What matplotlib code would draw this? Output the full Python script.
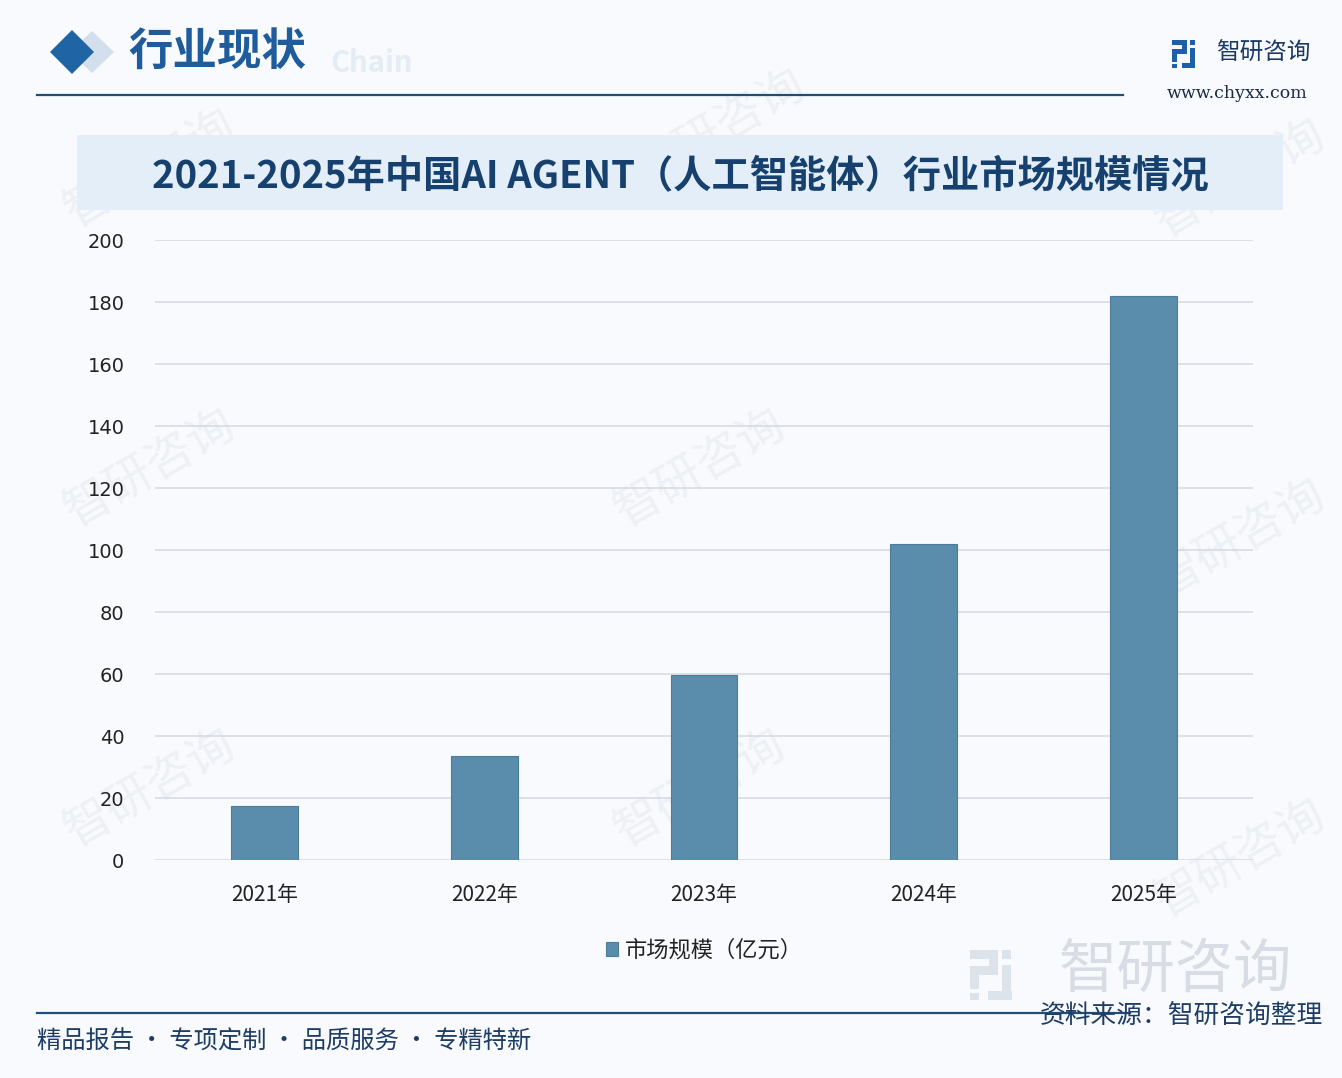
import matplotlib
matplotlib.use("Agg")
import matplotlib.pyplot as plt
from matplotlib.patches import Rectangle, Polygon

plt.rcParams['font.family'] = ['Noto Sans CJK SC', 'DejaVu Sans']

categories = ["2021年", "2022年", "2023年", "2024年", "2025年"]
values = [17.3, 33.5, 59.6, 102.0, 182.0]
yticks = [0, 20, 40, 60, 80, 100, 120, 140, 160, 180, 200]
series_name = "市场规模（亿元）"
title = "2021-2025年中国AI AGENT（人工智能体）行业市场规模情况"

W, H = 1342, 1078
fig = plt.figure(figsize=(W / 100, H / 100), dpi=100)
fig.patch.set_facecolor("#f8fafd")

def fx(x):
    return x / W

def fy(y):
    return 1 - y / H

def rect(x0, y0, w, h, color, z=2):
    fig.patches.append(Rectangle((fx(x0), fy(y0 + h)), w / W, h / H, transform=fig.transFigure,
                                 facecolor=color, edgecolor="none", zorder=z))

def logo(x0, y0, s, color):
    # simple block logo approximation
    rect(x0, y0, s * 0.55, s * 0.18, color)
    rect(x0 + s * 0.37, y0, s * 0.18, s * 0.5, color)
    rect(x0, y0 + s * 0.32, s * 0.55, s * 0.18, color)
    rect(x0, y0 + s * 0.32, s * 0.18, s * 0.45, color)
    rect(x0, y0 + s * 0.85, s * 0.18, s * 0.15, color)
    rect(x0 + s * 0.65, y0, s * 0.18, s * 0.18, color)
    rect(x0 + s * 0.65, y0 + s * 0.3, s * 0.18, s * 0.7, color)
    rect(x0 + s * 0.35, y0 + s * 0.82, s * 0.48, s * 0.18, color)

# Watermarks (faint, behind the chart)
for (x, y) in [(150, 170), (150, 470), (150, 790), (700, 470), (700, 790), (720, 130), (1240, 540), (1240, 860), (1240, 180)]:
    fig.text(fx(x), fy(y), "智研咨询", fontsize=34, color="#edf0f4", rotation=30,
             ha="center", va="center", zorder=-2)

# Header
fig.patches.append(Polygon([(fx(92), fy(31)), (fx(114), fy(52)), (fx(92), fy(73)), (fx(70), fy(52))],
                           closed=True, transform=fig.transFigure, facecolor="#d3dfec", zorder=1))
fig.patches.append(Polygon([(fx(72), fy(30)), (fx(94), fy(52)), (fx(72), fy(74)), (fx(50), fy(52))],
                           closed=True, transform=fig.transFigure, facecolor="#1f65a6", zorder=2))
fig.text(fx(330), fy(63), "Chain", fontsize=21, color="#e4ecf5", fontweight="bold",
         ha="left", va="center", zorder=1)
fig.text(fx(128), fy(52), "行业现状", fontsize=32, color="#1f5c9c", fontweight="bold",
         ha="left", va="center", zorder=3)
fig.add_artist(plt.Line2D([fx(37), fx(1123)], [fy(95), fy(95)], color="#1d4f78", lw=1.6))

# Logo top right
logo(1172, 40, 28, "#1f5ea8")
fig.text(fx(1216), fy(53), "智研咨询", fontsize=17, color="#1a3a66", ha="left", va="center")
fig.text(fx(1167), fy(93), "www.chyxx.com", fontsize=12.5, color="#1a2a44", ha="left",
         va="center", family="DejaVu Serif")

# Title band
rect(77, 135, 1283 - 77, 75, "#e3eef8", z=1)
fig.text(fx(680), fy(176), title, fontsize=27.5, color="#16406e", fontweight="bold",
         ha="center", va="center", zorder=3)

# Axes
ax = fig.add_axes([fx(155), fy(860), (1253 - 155) / W, (860 - 240) / H])
ax.set_facecolor("none")
x = list(range(len(categories)))
ax.bar(x, values, width=0.305, color="#5a8dac", edgecolor="#4a7d9c", linewidth=0.8,
       zorder=3, label=series_name)
ax.set_xlim(-0.5, len(categories) - 0.5)
ax.set_ylim(0, 200)
ax.set_yticks(yticks)
ax.set_yticklabels([str(t) for t in yticks], family="DejaVu Sans", fontsize=14, color="#222222")
ax.set_xticks(x)
ax.set_xticklabels(categories, fontsize=15, color="#222222")
ax.grid(axis="y", color="#d5d9e0", lw=1.1, zorder=0)
for s in ax.spines.values():
    s.set_visible(False)
ax.tick_params(axis="both", length=0)
ax.tick_params(axis="y", pad=22)
ax.tick_params(axis="x", pad=17)

leg = ax.legend(loc="upper center", bbox_to_anchor=(0.5, -0.095), frameon=False, fontsize=16,
                handlelength=0.55, handleheight=0.55, handletextpad=0.3)
for t in leg.get_texts():
    t.set_color("#222222")

# Bottom
logo(970, 950, 50, "#dde3ea")
fig.text(fx(1175), fy(970), "智研咨询", fontsize=42, color="#d8dde5", ha="center", va="center", zorder=1)
fig.add_artist(plt.Line2D([fx(37), fx(1130)], [fy(1013), fy(1013)], color="#1d4f78", lw=1.6))
fig.text(fx(37), fy(1042), "精品报告 · 专项定制 · 品质服务 · 专精特新", fontsize=17.5, color="#1e3d66",
         ha="left", va="center")
fig.text(fx(1323), fy(1016), "资料来源：智研咨询整理", fontsize=18.5, color="#1e3d66",
         ha="right", va="center", zorder=3)

fig.savefig("out.png", dpi=100, facecolor=fig.get_facecolor())
